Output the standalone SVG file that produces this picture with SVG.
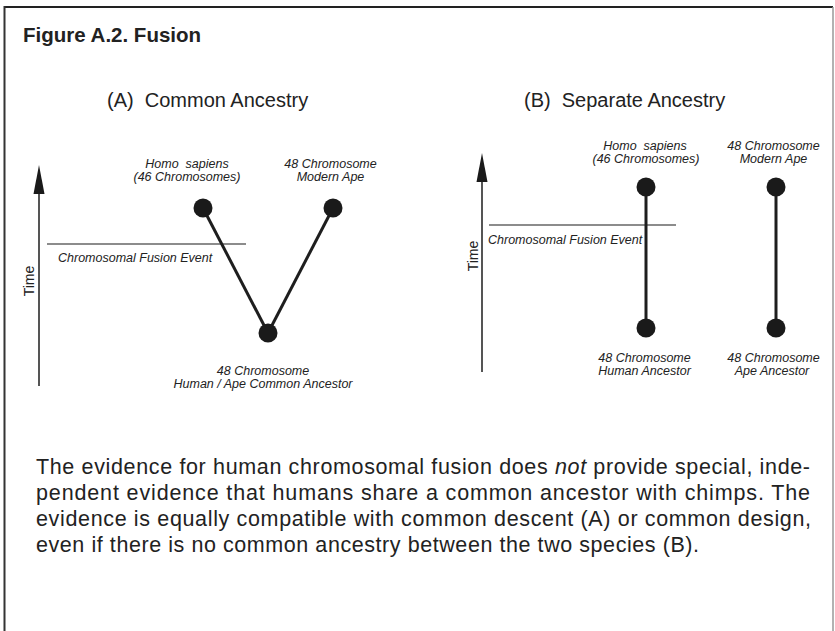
<svg xmlns="http://www.w3.org/2000/svg" width="835" height="631" viewBox="0 0 835 631">
<defs>
<style>
.lbl{font-family:"Liberation Sans",Arial,sans-serif;font-style:italic;font-size:12.5px;fill:#222;text-anchor:middle}
.ttl{font-family:"Liberation Sans",Arial,sans-serif;font-size:20px;fill:#222}
.time{font-family:"Liberation Sans",Arial,sans-serif;font-size:14px;fill:#222;text-anchor:middle}
.body{font-family:"Liberation Sans",Arial,sans-serif;font-size:21.5px;fill:#222}
.node{fill:#1a1a1a}
.branch{stroke:#1e1e1e;stroke-width:3;fill:none}
.fusion{stroke:#666;stroke-width:1.5}
.axis{stroke:#555;stroke-width:2}
.head{fill:#1a1a1a}
</style>
</defs>
<rect width="835" height="631" fill="#fff"/>
<g id="frame">
<line x1="4.5" y1="7" x2="833" y2="7" stroke="#222" stroke-width="2"/>
<line x1="4.5" y1="6" x2="4.5" y2="631" stroke="#333" stroke-width="2"/>
<line x1="833" y1="7" x2="833" y2="631" stroke="#999" stroke-width="1.5"/>
</g>
<text x="23" y="42" font-family="'Liberation Sans',Arial,sans-serif" font-weight="bold" font-size="20.5" fill="#222">Figure A.2. Fusion</text>
<text class="ttl" x="107" y="107" xml:space="preserve">(A)  Common Ancestry</text>
<text class="ttl" x="524" y="107" xml:space="preserve">(B)  Separate Ancestry</text>

<g id="connectors">
<line class="fusion" x1="47" y1="244" x2="246" y2="244"/>
<line class="branch" x1="203" y1="208" x2="268" y2="333"/>
<line class="branch" x1="333" y1="208" x2="268" y2="333"/>
<line class="fusion" x1="489" y1="225" x2="676" y2="225"/>
<line class="branch" x1="646" y1="187" x2="646" y2="328"/>
<line class="branch" x1="776" y1="187" x2="776" y2="328"/>
</g>

<g id="axisA">
<line class="axis" x1="39" y1="386" x2="39" y2="190"/>
<polygon class="head" points="39,165 44.5,194 33.5,194"/>
<text class="time" transform="translate(33.5,281) rotate(-90)">Time</text>
</g>
<g id="axisB">
<line class="axis" x1="482" y1="372" x2="482" y2="178"/>
<polygon class="head" points="482,153 487.5,182 476.5,182"/>
<text class="time" transform="translate(477.5,256) rotate(-90)">Time</text>
</g>

<g id="fusionA"><text class="lbl" x="58" y="262" style="text-anchor:start">Chromosomal Fusion Event</text></g>
<g id="fusionB"><text class="lbl" x="488" y="244" style="text-anchor:start">Chromosomal Fusion Event</text></g>

<g id="A-homo">
<circle class="node" cx="203" cy="208" r="9.5"/>
<text class="lbl" x="187" y="168" xml:space="preserve">Homo  sapiens</text>
<text class="lbl" x="187" y="181">(46 Chromosomes)</text>
</g>
<g id="A-ape">
<circle class="node" cx="333" cy="208" r="9.5"/>
<text class="lbl" x="330.5" y="168">48 Chromosome</text>
<text class="lbl" x="330.5" y="181">Modern Ape</text>
</g>
<g id="A-ancestor">
<circle class="node" cx="268" cy="333" r="9.5"/>
<text class="lbl" x="263" y="375">48 Chromosome</text>
<text class="lbl" x="263" y="388">Human / Ape Common Ancestor</text>
</g>

<g id="B-homo">
<circle class="node" cx="646" cy="187" r="9.5"/>
<text class="lbl" x="645" y="150" xml:space="preserve">Homo  sapiens</text>
<text class="lbl" x="646" y="163">(46 Chromosomes)</text>
</g>
<g id="B-ape">
<circle class="node" cx="776" cy="187" r="9.5"/>
<text class="lbl" x="773.5" y="150">48 Chromosome</text>
<text class="lbl" x="773.5" y="163">Modern Ape</text>
</g>
<g id="B-human-ancestor">
<circle class="node" cx="646" cy="328" r="9.5"/>
<text class="lbl" x="644.5" y="361.5">48 Chromosome</text>
<text class="lbl" x="644.5" y="374.5">Human Ancestor</text>
</g>
<g id="B-ape-ancestor">
<circle class="node" cx="776" cy="328" r="9.5"/>
<text class="lbl" x="773.5" y="361.5">48 Chromosome</text>
<text class="lbl" x="772" y="374.5">Ape Ancestor</text>
</g>

<g id="caption">
<text class="body" x="36" y="474" textLength="774">The evidence for human chromosomal fusion does <tspan font-style="italic">not</tspan> provide special, inde-</text>
<text class="body" x="36" y="500" textLength="774">pendent evidence that humans share a common ancestor with chimps. The</text>
<text class="body" x="36" y="526" textLength="775">evidence is equally compatible with common descent (A) or common design,</text>
<text class="body" x="36" y="552" textLength="663">even if there is no common ancestry between the two species (B).</text>
</g>
</svg>
